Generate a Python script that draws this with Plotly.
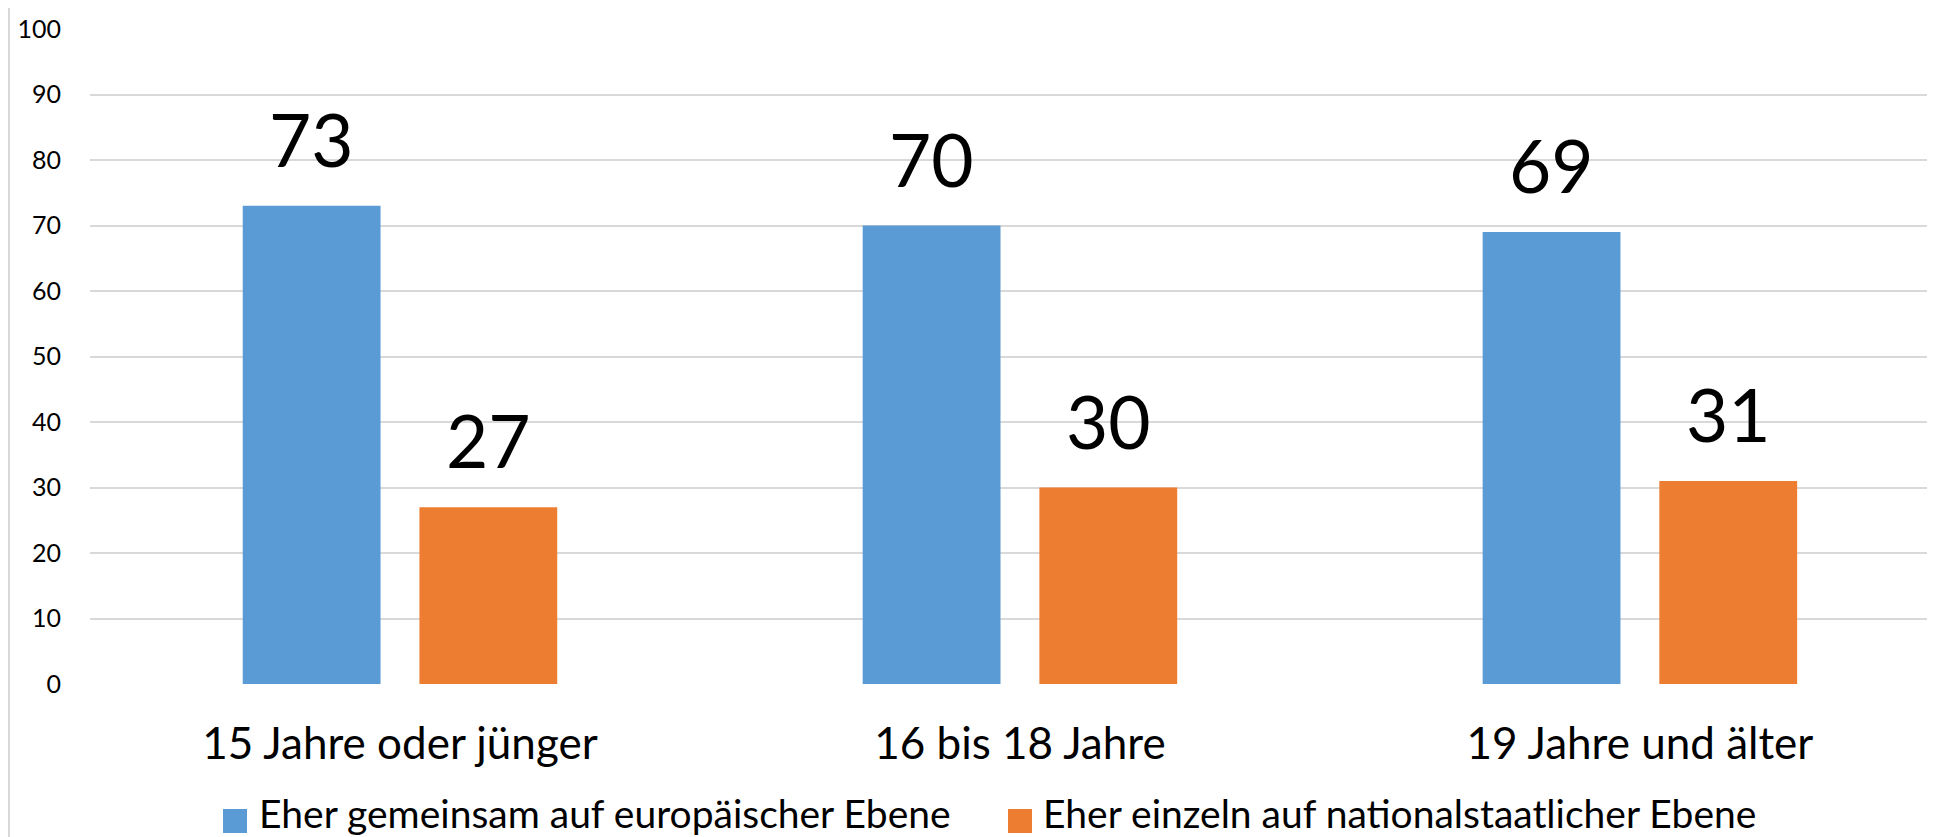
import plotly.graph_objects as go

categories = ["15 Jahre oder jünger", "16 bis 18 Jahre", "19 Jahre und älter"]
series_names = ["Eher gemeinsam auf europäischer Ebene", "Eher einzeln auf nationalstaatlicher Ebene"]
europa = [73, 70, 69]
national = [27, 30, 31]
series_values = [europa, national]
colors = ["#5B9BD5", "#ED7D31"]
y_ticks = [0, 10, 20, 30, 40, 50, 60, 70, 80, 90, 100]

FONT = "Lato"
BARGAP = 0.43
BARGROUPGAP = 0.22

# page body has an 8px margin; compensate so the plot area lands where the reference has it
PAGE = 8
W, H = 1935 - PAGE, 837 - PAGE
ML, MT, MB, MR = 90 - PAGE, 29 - PAGE, 153, 0

fig = go.Figure()
for name, vals, col in zip(series_names, series_values, colors):
    fig.add_trace(go.Bar(x=categories, y=vals, name=name, marker=dict(color=col, line=dict(width=0)),
                         showlegend=False, hoverinfo="x+y"))

# data labels
off = (1 - BARGAP) / 4
annotations = []
for s, vals in enumerate(series_values):
    for i, v in enumerate(vals):
        annotations.append(dict(x=i + (-off if s == 0 else off), y=v, xref="x", yref="y",
                                text=str(v), showarrow=False, yanchor="bottom", xanchor="center",
                                yshift=21, font=dict(family=FONT, size=73, color="#000000")))

# custom legend (large square markers), positions given in page pixels
plot_l, plot_t = PAGE + ML, PAGE + MT
plot_w, plot_h = W - ML - MR, H - MT - MB
def px2paper_x(px):
    return (px - plot_l) / plot_w
def px2paper_y(py):
    return (plot_t + plot_h - py) / plot_h

legend_items = [(223, 257), (1008, 1041)]
shapes = []
for (mx, tx), name, col in zip(legend_items, series_names, colors):
    shapes.append(dict(type="rect", xref="paper", yref="paper",
                       x0=px2paper_x(mx), x1=px2paper_x(mx + 24),
                       y0=px2paper_y(833), y1=px2paper_y(809),
                       fillcolor=col, line=dict(width=0)))
    annotations.append(dict(x=px2paper_x(tx), y=px2paper_y(813), xref="paper", yref="paper",
                            text=name, showarrow=False, xanchor="left", yanchor="middle",
                            font=dict(family=FONT, size=39, color="#000000")))

# chart border line at left
shapes.append(dict(type="line", xref="paper", yref="paper", x0=px2paper_x(9), x1=px2paper_x(9),
                   y0=-0.3, y1=1.1, line=dict(color="#D9D9D9", width=2)))

fig.update_layout(
    width=W, height=H, autosize=False,
    margin=dict(l=ML, r=MR, t=MT, b=MB),
    paper_bgcolor="white", plot_bgcolor="white",
    barmode="group", bargap=BARGAP, bargroupgap=BARGROUPGAP,
    annotations=annotations, shapes=shapes,
    xaxis=dict(type="category", range=[-0.5, 2.476], showgrid=False, showline=False, zeroline=False,
               tickfont=dict(family=FONT, size=44, color="#000000"), ticks="", ticklabelstandoff=30),
    yaxis=dict(range=[0, 100], tickvals=y_ticks, showgrid=True, gridcolor="#D9D9D9", gridwidth=2,
               zeroline=False, showline=False, ticks="",
               tickfont=dict(family=FONT, size=25, color="#000000"), ticklabelstandoff=28),
    showlegend=False,
)

fig.write_html("out.html")
